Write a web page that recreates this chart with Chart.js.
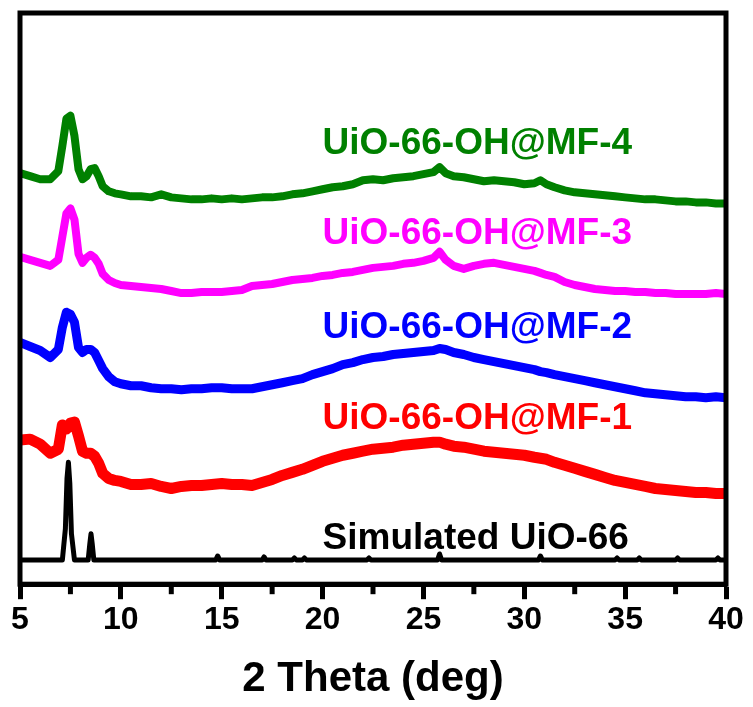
<!DOCTYPE html>
<html>
<head>
<meta charset="utf-8">
<script src="https://cdn.jsdelivr.net/npm/chart.js@4/dist/chart.umd.min.js"></script>
<style>
  html, body { margin: 0; padding: 0; background: #fff; }
</style>
</head>
<body>
<canvas id="chartXrd" width="753" height="707"></canvas>
<script>
// 2θ comun para las cuatro muestras medidas
const angulos = [
  5, 5.5, 6, 6.5, 6.9, 7.1, 7.3, 7.5, 7.7, 7.9, 8.1, 8.3, 8.5, 8.7, 8.9, 9.1, 9.4, 9.7,
  10, 10.5, 11, 11.5, 12, 12.5, 13, 13.5, 14, 14.5, 15, 15.5, 16, 16.5, 17, 17.5,
  18, 18.5, 19, 19.5, 20, 20.5, 21, 21.5, 22, 22.5, 23, 23.5, 24, 24.5, 25, 25.5,
  25.8, 26.1, 26.5, 27, 27.5, 28, 28.5, 29, 29.5, 30, 30.5,
  30.8, 31.1, 31.5, 32, 32.5, 33, 33.5, 34, 34.5, 35, 35.5, 36, 36.5, 37, 37.5, 38, 38.5, 39, 39.5, 40
];

// intensidades (a.u., ya desplazadas)
const intensidadMF4 = [
  408, 405, 402, 402, 410, 435, 462, 465, 445, 412, 402, 405, 412, 413, 405, 395, 390, 388,
  387, 385, 385, 384, 387, 384, 383, 382, 382, 383, 382, 383, 382, 383, 384, 384,
  385, 387, 388, 390, 392, 394, 395, 397, 401, 402, 401, 403, 404, 405, 407, 409,
  414, 408, 405, 404, 402, 400, 401, 400, 399, 397, 398,
  401, 397, 394, 391, 389, 388, 387, 386, 385, 384, 383, 382, 382, 381, 380, 380, 379, 379, 378, 378
];
const intensidadMF3 = [
  325, 322, 319, 316, 322, 345, 368, 373, 362, 328, 319, 324, 327, 324, 318, 308, 302, 299,
  297, 296, 295, 294, 293, 291, 289, 289, 290, 290, 290, 291, 292, 296, 297, 298,
  300, 302, 303, 304, 306, 307, 309, 310, 312, 314, 315, 316, 318, 319, 321, 324,
  330, 322, 316, 313, 316, 318, 319, 317, 315, 313, 311,
  309, 307, 305, 300, 297, 295, 293, 292, 291, 291, 290, 290, 289, 289, 288, 288, 288, 288, 289, 288
];
const intensidadMF2 = [
  240, 236, 232, 225, 233, 255, 270, 268, 260, 235, 230, 233, 233, 230, 222, 214, 206, 201,
  199, 197, 197, 195, 194, 194, 193, 194, 194, 195, 195, 194, 194, 194, 196, 198,
  200, 202, 204, 208, 211, 214, 218, 220, 223, 225, 226, 228, 229, 230, 231, 232,
  234, 233, 230, 228, 225, 223, 221, 219, 217, 215, 213,
  211, 210, 208, 206, 204, 202, 200, 198, 196, 194, 192, 190, 189, 188, 187, 186, 186, 185, 186, 185
];
const intensidadMF1 = [
  143, 144, 139, 130, 134, 158, 154, 160, 161, 147, 132, 130, 130, 127, 120, 110, 105, 103,
  102, 99, 99, 100, 97, 95, 97, 98, 98, 99, 100, 99, 99, 98, 101, 104,
  108, 111, 114, 118, 122, 125, 128, 130, 132, 134, 135, 136, 138, 139, 140, 141,
  141, 139, 137, 136, 134, 132, 131, 130, 129, 128, 126,
  125, 124, 121, 118, 115, 112, 109, 106, 103, 101, 99, 97, 95, 94, 93, 92, 91, 91, 90, 90
];

// patron simulado de UiO-66
const angulosSimulado = [
  5, 7.1, 7.25, 7.33, 7.4, 7.47, 7.55, 7.7, 8.38, 8.46, 8.52, 8.58, 8.66,
  14.7, 14.8, 14.9, 17.0, 17.1, 17.2, 18.5, 18.6, 18.7, 19.0, 19.1, 19.2,
  22.2, 22.3, 22.4, 25.7, 25.8, 25.9, 30.7, 30.8, 30.9, 34.5, 34.6, 34.7,
  35.6, 35.7, 35.8, 37.5, 37.6, 37.7, 39.5, 39.6, 39.7, 40
];
const intensidadSimulado = [
  24, 24, 55, 105, 121, 100, 50, 24, 24, 40, 50, 40, 24,
  24, 28, 24, 24, 27, 24, 24, 26, 24, 24, 26, 24,
  24, 26, 24, 24, 30, 24, 24, 28, 24, 24, 26, 24,
  24, 26, 24, 24, 26, 24, 24, 26, 24, 24
];

const etiquetas = ['UiO-66-OH@MF-4', 'UiO-66-OH@MF-3', 'UiO-66-OH@MF-2', 'UiO-66-OH@MF-1', 'Simulated UiO-66'];
const colores = ['#008000', '#ff00ff', '#0000ff', '#ff0000', '#000000'];
const nivelEtiquetas = [437, 348, 255, 164, 45];
const ticksMenores = [7.5, 12.5, 17.5, 22.5, 27.5, 32.5, 37.5];

const aPuntos = (xs, ys) => xs.map((x, i) => ({ x, y: ys[i] }));

Chart.defaults.font.family = '"Liberation Sans", Arial, sans-serif';
Chart.defaults.color = '#000';

const marcoPlugin = {
  id: 'marco',
  afterDatasetsDraw(chart) {
    const { ctx, chartArea: a, scales: { x, y } } = chart;
    ctx.save();
    ctx.strokeStyle = '#000';
    ctx.lineWidth = 5;
    ctx.strokeRect(a.left, a.top, a.right - a.left, a.bottom - a.top);

    ticksMenores.forEach(v => {
      const px = x.getPixelForValue(v);
      ctx.beginPath();
      ctx.moveTo(px, a.bottom);
      ctx.lineTo(px, a.bottom + 10);
      ctx.stroke();
    });

    ctx.font = 'bold 37px "Liberation Sans", Arial, sans-serif';
    ctx.textAlign = 'left';
    ctx.textBaseline = 'middle';
    etiquetas.forEach((txt, i) => {
      ctx.fillStyle = colores[i];
      ctx.fillText(txt, x.getPixelForValue(20), y.getPixelForValue(nivelEtiquetas[i]));
    });
    ctx.restore();
  }
};

const series = [intensidadMF4, intensidadMF3, intensidadMF2, intensidadMF1];
const grosores = [8, 8, 9, 11];

const datasets = series.map((ys, i) => ({
  label: etiquetas[i],
  data: aPuntos(angulos, ys),
  borderColor: colores[i],
  borderWidth: grosores[i],
  borderJoinStyle: 'round',
  pointRadius: 0,
  tension: 0,
  fill: false
}));
datasets.push({
  label: etiquetas[4],
  data: aPuntos(angulosSimulado, intensidadSimulado),
  borderColor: colores[4],
  borderWidth: 5,
  borderJoinStyle: 'round',
  pointRadius: 0,
  tension: 0,
  fill: false
});

new Chart(document.getElementById('chartXrd').getContext('2d'), {
  type: 'line',
  data: { datasets },
  options: {
    responsive: false,
    animation: false,
    devicePixelRatio: 1,
    layout: { padding: { left: 20, right: 27, top: 13, bottom: 2 } },
    plugins: {
      legend: { display: false },
      tooltip: { enabled: false }
    },
    scales: {
      x: {
        type: 'linear',
        min: 5,
        max: 40,
        ticks: {
          stepSize: 5,
          padding: 2,
          color: '#000',
          font: { size: 32, weight: 'bold' }
        },
        grid: {
          drawOnChartArea: false,
          tickLength: 15,
          tickWidth: 5,
          tickColor: '#000'
        },
        border: { display: true, color: '#000', width: 5 },
        title: {
          display: true,
          text: '2 Theta (deg)',
          color: '#000',
          font: { size: 42, weight: 'bold' },
          padding: { top: 13, bottom: 0 }
        }
      },
      y: {
        display: false,
        min: 0,
        max: 567
      }
    }
  },
  plugins: [marcoPlugin]
});
</script>
</body>
</html>
